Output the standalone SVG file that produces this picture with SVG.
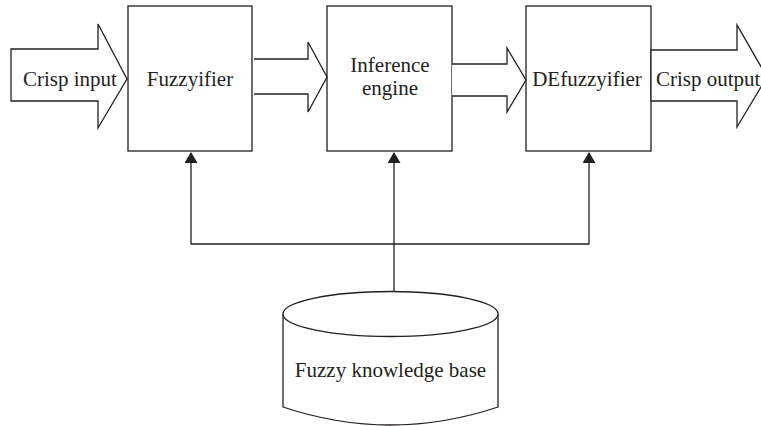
<svg xmlns="http://www.w3.org/2000/svg" width="761" height="426" viewBox="0 0 761 426">
<style>
.s{fill:#fff;stroke:#231f20;stroke-width:1.3}
.c{fill:none;stroke:#231f20;stroke-width:1.3}
text{font-family:"Liberation Serif","Times New Roman",serif;font-size:21px;fill:#231f20}
</style>
<defs>
<marker id="ah" markerWidth="11" markerHeight="13" refX="10" refY="6.5" orient="auto-start-reverse" markerUnits="userSpaceOnUse" viewBox="0 0 11 13">
<path d="M0,0 L11,6.5 L0,13 Z" fill="#231f20"/>
</marker>
</defs>
<rect width="761" height="426" fill="#fff"/>
<g id="crisp-input">
<path class="s" d="M11,49 H98 V24 L127,79 L98,128 V101 H11 Z"/>
<text x="70" y="86" text-anchor="middle">Crisp input</text>
</g>
<g id="fuzzyifier">
<rect class="s" x="128" y="6" width="124" height="145"/>
<text x="190" y="86" text-anchor="middle">Fuzzyifier</text>
</g>
<g id="inference">
<rect class="s" x="327" y="6" width="125" height="145"/>
<text x="390" y="72" text-anchor="middle">Inference</text>
<text x="390" y="95" text-anchor="middle">engine</text>
</g>
<g id="defuzzyifier">
<rect class="s" x="526" y="6" width="125" height="145"/>
<text x="587" y="86" text-anchor="middle">DEfuzzyifier</text>
</g>
<g id="crisp-output">
<path class="s" d="M651,50 H737 V25 L767,77 L737,127 V101 H651 Z"/>
<text x="656" y="86">Crisp output</text>
</g>
<g id="knowledge-base">
<path class="s" d="M283,314 V407 Q390.5,443 498,407 V314"/>
<ellipse class="s" cx="390.5" cy="314" rx="107.5" ry="22.5"/>
<text x="390.5" y="377" text-anchor="middle">Fuzzy knowledge base</text>
</g>
<g id="connectors">
<path class="s" d="M254,59 H308 V42 L327,77 L308,112 V94 H254"/>
<path class="s" d="M452,64 H507 V48 L526,80 L507,112 V96 H452"/>
<path class="c" d="M394,291.5 V153" marker-end="url(#ah)"/>
<path class="c" d="M191,153 V244 H589 V153" marker-start="url(#ah)" marker-end="url(#ah)"/>
</g>
</svg>
